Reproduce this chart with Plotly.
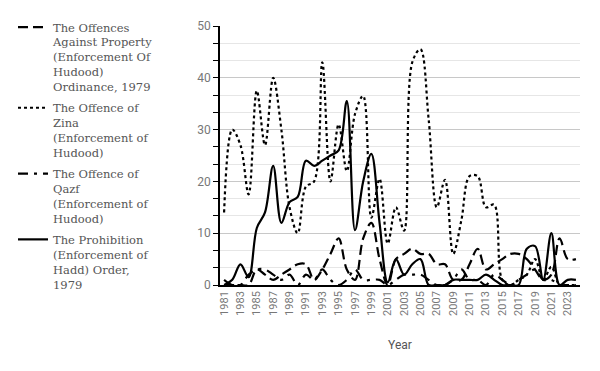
import plotly.graph_objects as go

years = list(range(1981, 2025))

property_offences = [1, 0, 0, 0, 3, 2, 1, 2, 3, 4, 4, 1, 3, 6, 9, 3, 1, 9, 12, 5,
                     0, 5, 6, 7, 6, 6, 4, 4, 1, 1, 4, 7, 3, 4, 5, 6, 6, 5, 3, 1,
                     2, 9, 5, 5]
zina = [14, 30, 27, 17.5, 37.5, 27, 40, 30, 15, 10, 19, 20, 43, 20, 31, 22, 33, 36.5, 13, 20.5,
        8, 15, 10.5, 43, 45.5, 32, 15, 20.3, 6, 12.5, 21, 21, 15, 15.5, 1, 0, 1, 2, 5, 1,
        3.5, 0, 0, 0]
qazf = [0, 0, 0, 2, 3, 3, 2, 1, 2, 0, 2, 1, 3, 1, 0, 1, 3, 1, 1, 1,
        0, 1, 2, 2, 2, 1, 0, 0, 1, 3, 1, 1, 0, 2, 1, 0, 1, 2, 3, 1,
        1, 0, 0, 0]
prohibition = [0, 1, 4, 1.5, 11, 14, 23, 12, 16, 17, 24, 23, 24, 25, 26, 35.5, 10.6, 20, 25.3, 12,
               0.5, 5, 2, 4, 5, 0, 0, 0, 1, 1, 1, 1, 2, 1, 0, 0, 0, 7, 7.5, 1,
               10, 0, 1, 1]

names = [
    "The Offences<br>Against Property<br>(Enforcement Of<br>Hudood)<br>Ordinance, 1979",
    "The Offence of<br>Zina<br>(Enforcement of<br>Hudood)",
    "The Offence of<br>Qazf<br>(Enforcement of<br>Hudood)",
    "The Prohibition<br>(Enforcement of<br>Hadd) Order,<br>1979",
]
series = [property_offences, zina, qazf, prohibition]
dashes = ["10px,5px", "dot", "10px,6px,3px,6px", "solid"]

fig = go.Figure()
for i, (nm, vals, d) in enumerate(zip(names, series, dashes)):
    fig.add_trace(go.Scatter(
        x=years, y=vals, name=nm, mode="lines", legendgroup=f"g{i}",
        line=dict(color="black", width=2.2, dash=d, shape="spline", smoothing=1.0),
    ))

tick_years = list(range(1981, 2024, 2))

fig.update_layout(
    width=600, height=371,
    margin=dict(l=212, r=28, t=18, b=94, autoexpand=False),
    plot_bgcolor="white", paper_bgcolor="white",
    font=dict(family="Roboto", color="#666666", size=11),
    showlegend=True,
    legend=dict(
        x=-0.575, xanchor="left", y=1.05, yanchor="top",
        font=dict(family="DejaVu Serif", size=11.5, color="#555555"),
        valign="top", itemwidth=30, tracegroupgap=3, maxheight=360,
    ),
    xaxis=dict(
        range=[1980.5, 2024.5], tickmode="array", tickvals=tick_years,
        ticktext=[str(y) for y in tick_years], tickangle=-90,
        showgrid=False, showline=True, linecolor="black", linewidth=1.5,
        ticks="", zeroline=False,
        title=dict(text="Year", font=dict(family="Roboto", size=12, color="#555555"), standoff=26),
        tickfont=dict(family="Roboto", size=11, color="#777777"),
    ),
    yaxis=dict(
        range=[0, 50], dtick=10, showgrid=True, gridcolor="#c8c8c8", gridwidth=1,
        showline=True, linecolor="black", linewidth=1.5,
        ticks="outside", ticklen=5, tickcolor="black",
        zeroline=False,
        tickfont=dict(family="Roboto", size=12, color="#777777"),
        minor=dict(dtick=10/3, showgrid=True, gridcolor="#e6e6e6", ticks="outside",
                   ticklen=5, tickcolor="black"),
    ),
)

fig.write_html("out.html")
